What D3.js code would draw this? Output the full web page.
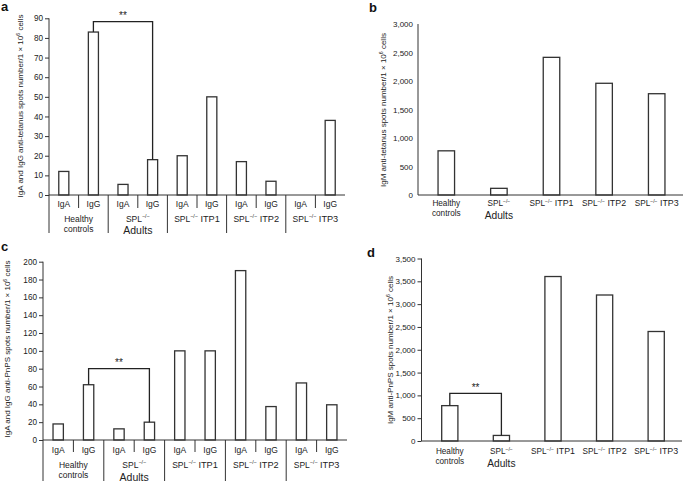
<!DOCTYPE html>
<html><head><meta charset="utf-8">
<script src="https://cdn.jsdelivr.net/npm/d3@7/dist/d3.min.js"></script>
<style>
html,body{margin:0;padding:0;background:#fff;}
svg{display:block;font-family:"Liberation Sans",Arial,Helvetica,sans-serif;}
</style></head>
<body>
<svg id="chart" width="685" height="481"></svg>
<script>
// ---------- DATA ----------
const groups = ["Healthy controls", "SPL Adults", "SPL ITP1", "SPL ITP2", "SPL ITP3"];
const isotypes = ["IgA", "IgG"];
// panel a: anti-tetanus IgA / IgG
const tetanusIgA = [12, 5.4, 20, 17, 0];
const tetanusIgG = [83, 18, 50, 7, 38];
// panel b: anti-tetanus IgM
const tetanusIgM = [775, 117, 2415, 1960, 1777];
// panel c: anti-PnPS IgA / IgG
const pnpsIgA = [18, 12.5, 100, 190, 64];
const pnpsIgG = [62, 20, 100, 37.5, 39.5];
// panel d: anti-PnPS IgM
const pnpsIgM = [775, 122, 3605, 3200, 2400];
// axis ticks
const ticksA = [0, 10, 20, 30, 40, 50, 60, 70, 80, 90];
const ticksB = [0, 500, 1000, 1500, 2000, 2500, 3000];
const ticksC = [0, 20, 40, 60, 80, 100, 120, 140, 160, 180, 200];
const ticksD = [0, 500, 1000, 1500, 2000, 2500, 3000, 3500, 4000];
const tickLabelsD = ["0", "500", "1,000", "1,500", "2,000", "2,500", "3,000", "3,500", "3,500"];
// significance brackets (group indices + bracket level)
const sigA = { from: 0, to: 1, iso: "IgG", level: 88.3, label: "**" };
const sigC = { from: 0, to: 1, iso: "IgG", level: 80, label: "**" };
const sigD = { from: 0, to: 1, level: 1045, label: "**" };
// axis titles
const titleA = "IgA and IgG anti-tetanus spots number/1 × 10";
const titleB = "IgM anti-tetanus spots number/1 × 10";
const titleC = "IgA and IgG anti-PnPS spots number/1 × 10";
const titleD = "IgM anti-PnPS spots number/1 × 10";

// ---------- DRAWING ----------
const svg = d3.select("#chart");
const INK = "#222222";
const LINE = "#333333";
const fmt = d3.format(",");

function groupLabel(g, i, x, y1, y2, fs, fsBig) {
  const t = g.append("g").attr("fill", INK).attr("text-anchor", "middle");
  if (i === 0) {
    t.append("text").attr("x", x).attr("y", y1).attr("font-size", fs).text("Healthy");
    t.append("text").attr("x", x).attr("y", y2).attr("font-size", fs).text("controls");
  } else {
    const txt = t.append("text").attr("x", x).attr("y", y1).attr("font-size", fs);
    txt.append("tspan").text("SPL");
    txt.append("tspan").attr("font-size", fs * 0.62).attr("dy", -fs * 0.4).text("−/−");
    if (i === 1) {
      t.append("text").attr("x", x).attr("y", y2).attr("font-size", fsBig).text("Adults");
    } else {
      txt.append("tspan").attr("dy", fs * 0.4).attr("font-size", fs * 1.08).text(" " + groups[i].split(" ")[1]);
    }
  }
}

function yTitle(g, x, yc, text, fs) {
  const t = g.append("text")
    .attr("transform", `translate(${x},${yc}) rotate(-90)`)
    .attr("text-anchor", "middle").attr("font-size", fs).attr("fill", INK);
  t.append("tspan").text(text);
  t.append("tspan").attr("font-size", fs * 0.65).attr("dy", -fs * 0.4).text("6");
  t.append("tspan").attr("dy", fs * 0.4).text(" cells");
}

function panelLetter(x, y, s) {
  svg.append("text").attr("x", x).attr("y", y).attr("font-size", 13)
    .attr("font-weight", "bold").attr("fill", "#111").text(s);
}

function yAxis(g, y, x0, ticks, labels, tickLen, fs) {
  const ax = d3.axisLeft(y).tickValues(ticks).tickSize(tickLen).tickPadding(tickLen ? 2 : 5)
    .tickFormat((d, i) => labels ? labels[i] : fmt(d));
  const a = g.append("g").attr("transform", `translate(${x0},0)`).call(ax);
  a.select(".domain").attr("stroke", LINE).attr("d", `M0,${y.range()[0]}V${y.range()[1]}`);
  a.selectAll(".tick line").attr("stroke", LINE);
  a.selectAll(".tick text").attr("fill", INK).attr("font-size", fs).attr("font-family", null);
}

// Paired (IgA/IgG) panel
function pairedPanel(opt) {
  const g = svg.append("g");
  const x = d3.scaleBand().domain(groups).range(opt.xr).paddingInner(0).paddingOuter(0);
  const xi = d3.scaleBand().domain(isotypes).range([0, x.bandwidth()]).paddingInner(0.66).paddingOuter(0.33);
  const y = d3.scaleLinear().domain(opt.domain).range(opt.yr);
  const rows = [];
  groups.forEach((gr, i) => {
    rows.push({ g: gr, i, iso: "IgA", v: opt.iga[i] });
    rows.push({ g: gr, i, iso: "IgG", v: opt.igg[i] });
  });
  g.selectAll("rect.bar").data(rows.filter(d => d.v > 0)).join("rect")
    .attr("class", "bar")
    .attr("x", d => x(d.g) + xi(d.iso))
    .attr("width", xi.bandwidth())
    .attr("y", d => y(d.v))
    .attr("height", d => y(0) - y(d.v))
    .attr("fill", "#fff").attr("stroke", LINE).attr("stroke-width", 1.3);
  yAxis(g, y, opt.xr[0], opt.ticks, null, 4, 8.2);
  g.append("line").attr("x1", opt.xr[0]).attr("x2", opt.xr[1]).attr("y1", y(0)).attr("y2", y(0))
    .attr("stroke", LINE).attr("stroke-width", 1);
  groups.forEach((gr, i) => {
    const gx = x(gr);
    g.append("line").attr("x1", gx).attr("x2", gx).attr("y1", y(0)).attr("y2", opt.divBottom)
      .attr("stroke", LINE);
    const mx = gx + x.bandwidth() / 2;
    g.append("line").attr("x1", mx).attr("x2", mx).attr("y1", y(0)).attr("y2", opt.sepBottom)
      .attr("stroke", LINE);
    isotypes.forEach(iso => {
      g.append("text").attr("x", gx + xi(iso) + xi.bandwidth() / 2).attr("y", opt.isoY)
        .attr("text-anchor", "middle").attr("font-size", 8.5).attr("fill", INK).text(iso);
    });
    groupLabel(g, i, gx + x.bandwidth() / 2, opt.lab1, i === 1 ? opt.lab2b : opt.lab2, 8.5, 10.5);
  });
  const s = opt.sig;
  const cx = k => x(groups[k]) + xi(s.iso) + xi.bandwidth() / 2;
  const v1 = (s.iso === "IgG" ? opt.igg : opt.iga)[s.from];
  const v2 = (s.iso === "IgG" ? opt.igg : opt.iga)[s.to];
  g.append("path").attr("fill", "none").attr("stroke", "#222").attr("stroke-width", 1.3)
    .attr("d", `M${cx(s.from)},${y(v1)}V${y(s.level)}H${cx(s.to)}V${y(v2)}`);
  g.append("text").attr("x", (cx(s.from) + cx(s.to)) / 2).attr("y", y(s.level) - 2.5)
    .attr("text-anchor", "middle").attr("font-size", 10).attr("fill", "#222").text(s.label);
  yTitle(g, opt.titleX, opt.titleY, opt.title, 8);
}

// Single IgM panel
function singlePanel(opt) {
  const g = svg.append("g");
  const x = d3.scaleBand().domain(groups).range(opt.xr).paddingInner(0.686).paddingOuter(0.343);
  const y = d3.scaleLinear().domain(opt.domain).range(opt.yr);
  g.selectAll("rect.bar").data(groups.map((gr, i) => ({ g: gr, i, v: opt.values[i] }))).join("rect")
    .attr("class", "bar")
    .attr("x", d => x(d.g)).attr("width", x.bandwidth())
    .attr("y", d => y(d.v)).attr("height", d => y(0) - y(d.v))
    .attr("fill", "#fff").attr("stroke", LINE).attr("stroke-width", 1.3);
  yAxis(g, y, opt.axisX, opt.ticks, opt.labels, opt.tickLen, 8);
  g.append("line").attr("x1", opt.axisX).attr("x2", opt.xr[1]).attr("y1", y(0)).attr("y2", y(0))
    .attr("stroke", LINE);
  groups.forEach((gr, i) => {
    groupLabel(g, i, x(gr) + x.bandwidth() / 2, opt.lab1, i === 1 ? opt.lab2b : opt.lab2, 8.2, 10.2);
  });
  if (opt.sig) {
    const s = opt.sig;
    const cx = k => x(groups[k]) + x.bandwidth() / 2;
    g.append("path").attr("fill", "none").attr("stroke", "#222").attr("stroke-width", 1.3)
      .attr("d", `M${cx(s.from)},${y(opt.values[s.from])}V${y(s.level)}H${cx(s.to)}V${y(opt.values[s.to])}`);
    g.append("text").attr("x", (cx(s.from) + cx(s.to)) / 2).attr("y", y(s.level) - 2.5)
      .attr("text-anchor", "middle").attr("font-size", 10).attr("fill", "#222").text(s.label);
  }
  yTitle(g, opt.titleX, opt.titleY, opt.title, 8);
}

// panel a
pairedPanel({
  iga: tetanusIgA, igg: tetanusIgG, domain: [0, 90], ticks: ticksA,
  xr: [49, 345], yr: [195, 18.3],
  divBottom: 233, sepBottom: 208, isoY: 206.5, lab1: 221.5, lab2: 231.5, lab2b: 233.5,
  sig: sigA, title: titleA, titleX: 23, titleY: 106
});
panelLetter(1, 11, "a");

// panel b
singlePanel({
  values: tetanusIgM, domain: [0, 3000], ticks: ticksB, labels: null, tickLen: 0,
  xr: [420, 683], yr: [195, 24], axisX: 418,
  lab1: 206, lab2: 216, lab2b: 218.5,
  title: titleB, titleX: 386, titleY: 110
});
panelLetter(369, 12, "b");

// panel c
pairedPanel({
  iga: pnpsIgA, igg: pnpsIgG, domain: [0, 200], ticks: ticksC,
  xr: [43, 347], yr: [440, 261.7],
  divBottom: 481, sepBottom: 452, isoY: 453, lab1: 467.5, lab2: 478, lab2b: 480.5,
  sig: sigC, title: titleC, titleX: 10, titleY: 349
});
panelLetter(1, 251, "c");

// panel d
singlePanel({
  values: pnpsIgM, domain: [0, 4000], ticks: ticksD, labels: tickLabelsD, tickLen: 4,
  xr: [424, 682], yr: [441, 258.5], axisX: 421.5,
  lab1: 454, lab2: 464, lab2b: 466.5,
  sig: sigD, title: titleD, titleX: 393, titleY: 350
});
panelLetter(367, 257, "d");
</script>
</body></html>
